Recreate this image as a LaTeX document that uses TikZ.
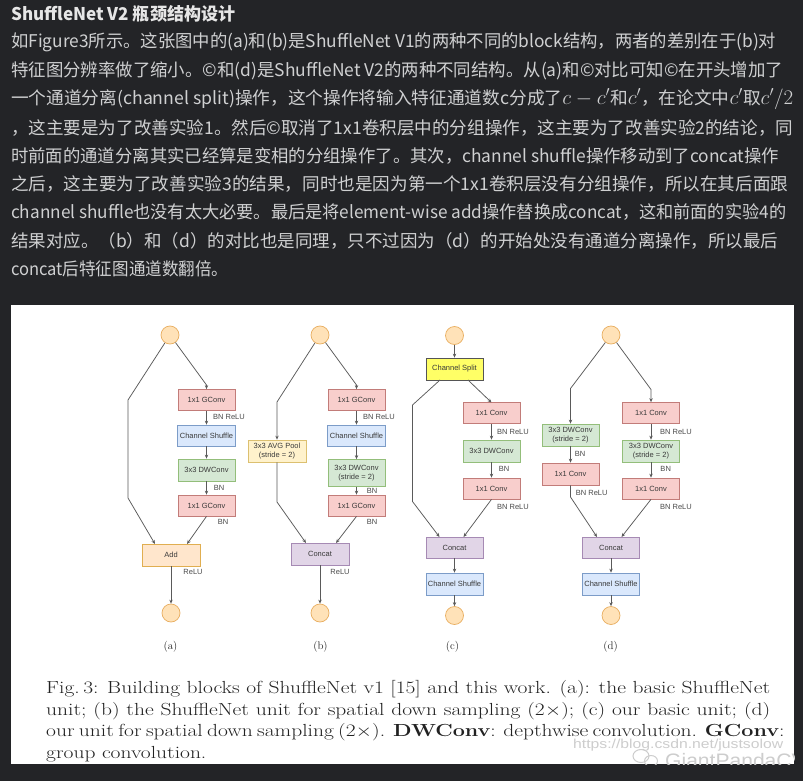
\documentclass[tikz,border=0pt]{standalone}
\usepackage{fontspec}
\usepackage{graphicx}
\newfontfamily\cjk{Noto Sans CJK SC}
\newfontfamily\arial{Liberation Sans}
\usetikzlibrary{arrows.meta}
\definecolor{pagebg}{HTML}{232427}
\definecolor{bodytxt}{HTML}{CFD0D1}
\definecolor{titletxt}{HTML}{E6E6E6}
\definecolor{pinkfill}{HTML}{F8CECC}
\definecolor{pinkline}{HTML}{C27C79}
\definecolor{bluefill}{HTML}{DAE8FC}
\definecolor{blueline}{HTML}{7C9CC8}
\definecolor{greenfill}{HTML}{D5E8D4}
\definecolor{greenline}{HTML}{93BE7A}
\definecolor{addfill}{HTML}{FFE6CC}
\definecolor{addline}{HTML}{E0AE50}
\definecolor{poolfill}{HTML}{FFF2CC}
\definecolor{poolline}{HTML}{DCC070}
\definecolor{catfill}{HTML}{E1D5E7}
\definecolor{catline}{HTML}{A68AB4}
\definecolor{splitfill}{HTML}{FFFF66}
\definecolor{splitline}{HTML}{555555}
\definecolor{iofill}{HTML}{FFE2B8}
\definecolor{ioline}{HTML}{E8AE60}
\definecolor{arrcol}{HTML}{5A5A5A}
\definecolor{boxtxt}{HTML}{3A3A3A}
\definecolor{lblcol}{HTML}{4A4A4A}
\definecolor{captxt}{HTML}{222222}
\definecolor{wmcol}{HTML}{CDCDCD}
\newcommand{\bodyfont}{\cjk\fontsize{17.5}{20}\selectfont}
\newcommand{\mathbig}[1]{{\fontsize{20}{20}\selectfont$#1$}}
\newcommand{\capfont}{\fontsize{17.5}{20}\selectfont}
\newcommand{\boxfont}{\arial\fontsize{7.5}{8.5}\selectfont}
\newcommand{\capfirst}{Fig.\,3: Building blocks of ShuffleNet v1 [15] and this work. (a): the basic ShuffleNet}
\newlength\capnat
\AtBeginDocument{\settowidth\capnat{\capfont\capfirst}}
\begin{document}
\begin{tikzpicture}[x=1pt,y=-1pt,
  bline/.style={anchor=west, inner sep=0pt, text=bodytxt},
  capline/.style={anchor=base west, inner sep=0pt, text=captxt},
  box/.style={draw, minimum width=57pt, minimum height=21pt, inner sep=0pt,
    font=\boxfont, text=boxtxt, line width=0.7pt, align=center},
  gconv/.style={box, fill=pinkfill, draw=pinkline},
  shuf/.style={box, fill=bluefill, draw=blueline},
  dw/.style={box, fill=greenfill, draw=greenline},
  addbox/.style={box, fill=addfill, draw=addline, minimum width=58pt, minimum height=22pt},
  pool/.style={box, fill=poolfill, draw=poolline, minimum width=58pt, minimum height=22pt},
  cat/.style={box, fill=catfill, draw=catline},
  split/.style={box, fill=splitfill, draw=splitline, minimum height=22pt},
  io/.style={circle, draw=ioline, fill=iofill, minimum size=18pt, inner sep=0pt, line width=0.7pt},
  arr/.style={draw=arrcol, line width=0.75pt, -{Stealth[length=4pt,width=3.4pt]}},
  lbl/.style={font=\arial\fontsize{7.5}{8.5}\selectfont, text=lblcol, inner sep=0pt},
  sub/.style={font=\fontsize{11}{12}\selectfont, text=captxt, inner sep=0pt}
]
\useasboundingbox (0,0) rectangle (803,781);
\fill[pagebg] (0,0) rectangle (803,781);
\fill[white] (11,305) rectangle (794,764);

% ---------- text above ----------
\node[anchor=west, inner sep=0pt, text=titletxt] (title) at (11,14)
  {\resizebox{224pt}{\height}{\bodyfont\bfseries ShuffleNet V2 瓶颈结构设计}};
\node[bline] (l1) at (11,42.7) {\resizebox{765pt}{\height}{\bodyfont 如Figure3所示。这张图中的(a)和(b)是ShuffleNet V1的两种不同的block结构，两者的差别在于(b)对}};
\node[bline] (l2) at (11,71) {\resizebox{772pt}{\height}{\bodyfont 特征图分辨率做了缩小。©和(d)是ShuffleNet V2的两种不同结构。从(a)和©对比可知©在开头增加了}};
\node[bline] (l3) at (11,99.3) {\resizebox{782pt}{\height}{\bodyfont 一个通道分离(channel split)操作，这个操作将输入特征通道数c分成了\mathbig{c-c'}和\mathbig{c'}，在论文中\mathbig{c'}取\mathbig{c'/2}}};
\node[bline] (l4) at (11,127.6) {\resizebox{782pt}{\height}{\bodyfont ，这主要是为了改善实验1。然后©取消了1x1卷积层中的分组操作，这主要为了改善实验2的结论，同}};
\node[bline] (l5) at (11,155.9) {\resizebox{768pt}{\height}{\bodyfont 时前面的通道分离其实已经算是变相的分组操作了。其次，channel shuffle操作移动到了concat操作}};
\node[bline] (l6) at (11,184.2) {\resizebox{777pt}{\height}{\bodyfont 之后，这主要为了改善实验3的结果，同时也是因为第一个1x1卷积层没有分组操作，所以在其后面跟}};
\node[bline] (l7) at (11,212.5) {\resizebox{775pt}{\height}{\bodyfont channel shuffle也没有太大必要。最后是将element-wise add操作替换成concat，这和前面的实验4的}};
\node[bline] (l8) at (11,240.8) {\resizebox{767pt}{\height}{\bodyfont 结果对应。（b）和（d）的对比也是同理，只不过因为（d）的开始处没有通道分离操作，所以最后}};
\node[bline] (l9) at (11,269.1) {\resizebox{217pt}{\height}{\bodyfont concat后特征图通道数翻倍。}};

% ---------- (a) ----------
\node[io] (ta) at (170,335) {};
\node[gconv] (a1) at (206.5,400) {1x1 GConv};
\node[shuf, minimum width=58pt] (a2) at (206.5,435.5) {Channel Shuffle};
\node[dw, minimum height=22pt] (a3) at (206.5,470) {3x3 DWConv};
\node[gconv] (a4) at (206.5,505.5) {1x1 GConv};
\node[addbox] (aadd) at (171,555) {Add};
\node[io] (ba) at (171,613) {};
\node[lbl] (la1) at (229,417) {BN ReLU};
\node[lbl] (la2) at (219,487.5) {BN};
\node[lbl] (la3) at (223,522) {BN};
\node[lbl] (la4) at (193,572) {ReLU};
\coordinate (aR) at (206.5,385);
\coordinate (aL1) at (128,400);
\coordinate (aL2) at (128,498);
\coordinate (aL3) at (155,544);
\coordinate (aM) at (187,544);
\draw[arr] (ta) -- (aR) -- (a1.north);
\draw[arr] (ta) -- (aL1) -- (aL2) -- (aL3);
\draw[arr] (a1) -- (a2);
\draw[arr] (a2) -- (a3);
\draw[arr] (a3) -- (a4);
\draw[arr] (a4.south) -- (aM);
\draw[arr] (aadd) -- (ba);
\node[sub] (suba) at (170.5,646.5) {(a)};

% ---------- (b) ----------
\node[io] (tb) at (320,335) {};
\node[gconv] (b1) at (356.5,400) {1x1 GConv};
\node[shuf, minimum width=58pt] (b2) at (356.5,435.5) {Channel Shuffle};
\node[dw, minimum height=27pt] (b3) at (356.5,473) {3x3 DWConv\\(stride = 2)};
\node[gconv] (b4) at (356.5,505.5) {1x1 GConv};
\node[pool] (bpool) at (277,451) {3x3 AVG Pool\\(stride = 2)};
\node[cat, minimum width=58pt, minimum height=22pt] (bcat) at (320,554) {Concat};
\node[io] (bb) at (320,613) {};
\node[lbl] (lb1) at (379,417) {BN ReLU};
\node[lbl] (lb2) at (372,491) {BN};
\node[lbl] (lb3) at (372,522) {BN};
\node[lbl] (lb4) at (340,572) {ReLU};
\coordinate (bR) at (356.5,385);
\coordinate (bL1) at (277,402);
\coordinate (bL2) at (277,502);
\coordinate (bL3) at (306,543);
\coordinate (bM) at (336,543);
\draw[arr] (tb) -- (bR) -- (b1.north);
\draw[arr] (tb) -- (bL1) -- (bpool.north);
\draw[arr] (bpool.south) -- (bL2) -- (bL3);
\draw[arr] (b1) -- (b2);
\draw[arr] (b2) -- (b3);
\draw[arr] (b3) -- (b4);
\draw[arr] (b4.south) -- (bM);
\draw[arr] (bcat) -- (bb);
\node[sub] (subb) at (320.5,646.5) {(b)};

% ---------- (c) ----------
\node[io] (tc) at (454.5,335.5) {};
\node[split] (csplit) at (454.5,369) {Channel Split};
\node[gconv] (c1) at (491.5,413) {1x1 Conv};
\node[dw, minimum height=22pt] (c2) at (491.5,451) {3x3 DWConv};
\node[gconv] (c3) at (491.5,488.5) {1x1 Conv};
\node[cat] (ccat) at (454.5,547.5) {Concat};
\node[shuf, minimum height=22pt] (cshuf) at (454.5,584) {Channel Shuffle};
\node[io] (bc) at (454.5,615.5) {};
\node[lbl] (lc1) at (513,431.5) {BN ReLU};
\node[lbl] (lc2) at (504,469) {BN};
\node[lbl] (lc3) at (513,506.5) {BN ReLU};
\coordinate (cS1) at (440,380);
\coordinate (cS2) at (468,380);
\coordinate (cL1) at (412.5,405);
\coordinate (cL2) at (412.5,501.5);
\coordinate (cL3) at (439.5,537);
\coordinate (cR) at (491.5,402.5);
\coordinate (cM) at (463.5,537);
\draw[arr] (tc) -- (csplit);
\draw[arr] (cS1) -- (cL1) -- (cL2) -- (cL3);
\draw[arr] (cS2) -- (cR);
\draw[arr] (c1) -- (c2);
\draw[arr] (c2) -- (c3);
\draw[arr] (c3.south) -- (cM);
\draw[arr] (ccat) -- (cshuf);
\draw[arr] (cshuf) -- (bc);
\node[sub] (subc) at (452.5,646.5) {(c)};

% ---------- (d) ----------
\node[io] (td) at (611,335) {};
\node[dw, minimum height=22pt] (dl1) at (570.5,435) {3x3 DWConv\\(stride = 2)};
\node[gconv, minimum height=22pt] (dl2) at (570.5,474) {1x1 Conv};
\node[gconv] (dr1) at (651,413) {1x1 Conv};
\node[dw, minimum height=22pt] (dr2) at (651,451) {3x3 DWConv\\(stride = 2)};
\node[gconv] (dr3) at (651,488.5) {1x1 Conv};
\node[cat] (dcat) at (611,547.5) {Concat};
\node[shuf, minimum height=22pt] (dshuf) at (611,584) {Channel Shuffle};
\node[io] (bd) at (611,615.5) {};
\node[lbl] (ld1) at (580,453.5) {BN};
\node[lbl] (ld2) at (591.7,492.7) {BN ReLU};
\node[lbl] (ld3) at (676,431.5) {BN ReLU};
\node[lbl] (ld4) at (665.7,469) {BN};
\node[lbl] (ld5) at (676,506.5) {BN ReLU};
\coordinate (dL1) at (570.5,388.5);
\coordinate (dL2) at (570.5,497);
\coordinate (dL3) at (597,537);
\coordinate (dR1) at (651,389.5);
\coordinate (dM) at (621.5,537);
\draw[arr] (td) -- (dL1) -- (dl1.north);
\draw[arr] (dl1) -- (dl2);
\draw[arr] (dl2.south) -- (dL2) -- (dL3);
\draw[arr] (td) -- (dR1) -- (dr1.north);
\draw[arr] (dr1) -- (dr2);
\draw[arr] (dr2) -- (dr3);
\draw[arr] (dr3.south) -- (dM);
\draw[arr] (dcat) -- (dshuf);
\draw[arr] (dshuf) -- (bd);
\node[sub] (subd) at (610.5,646.5) {(d)};

% ---------- caption ----------
\node[capline] (cap1) at (46,693.3) {\resizebox{724pt}{\height}{\capfont\makebox[\capnat][s]{\capfirst}}};
\node[capline] (cap2) at (46,715) {\resizebox{724pt}{\height}{\capfont\makebox[\capnat][s]{unit; (b) the ShuffleNet unit for spatial down sampling (2$\times$); (c) our basic unit; (d)}}};
\node[capline] (cap3) at (46,736.7) {\resizebox{724pt}{\height}{\capfont\makebox[\capnat][s]{our unit for spatial down sampling (2$\times$). \textbf{DWConv}: depthwise convolution. \textbf{GConv}:}}};
\begin{scope}
\clip (11,305) rectangle (794,764);
\node[capline] (cap4) at (46,758.3) {\resizebox{724pt}{\height}{\capfont\makebox[\capnat][l]{group convolution.}}};
\node[anchor=west, inner sep=0pt, text=wmcol] (wm1) at (573,745.5)
  {\resizebox{210pt}{\height}{\arial\fontsize{13}{13}\selectfont https://blog.csdn.net/justsolow}};
\node[anchor=base west, inner sep=0pt, text=wmcol] (wm2) at (665,767)
  {\scalebox{1.08}[1]{\arial\fontsize{19.5}{20}\selectfont GiantPandaCV}};
\draw[wmcol, line width=1pt] (641,756) ellipse [x radius=8, y radius=6.5];
\draw[wmcol, line width=1pt] (651,761) ellipse [x radius=6.5, y radius=5.5];
\end{scope}
\end{tikzpicture}
\end{document}
